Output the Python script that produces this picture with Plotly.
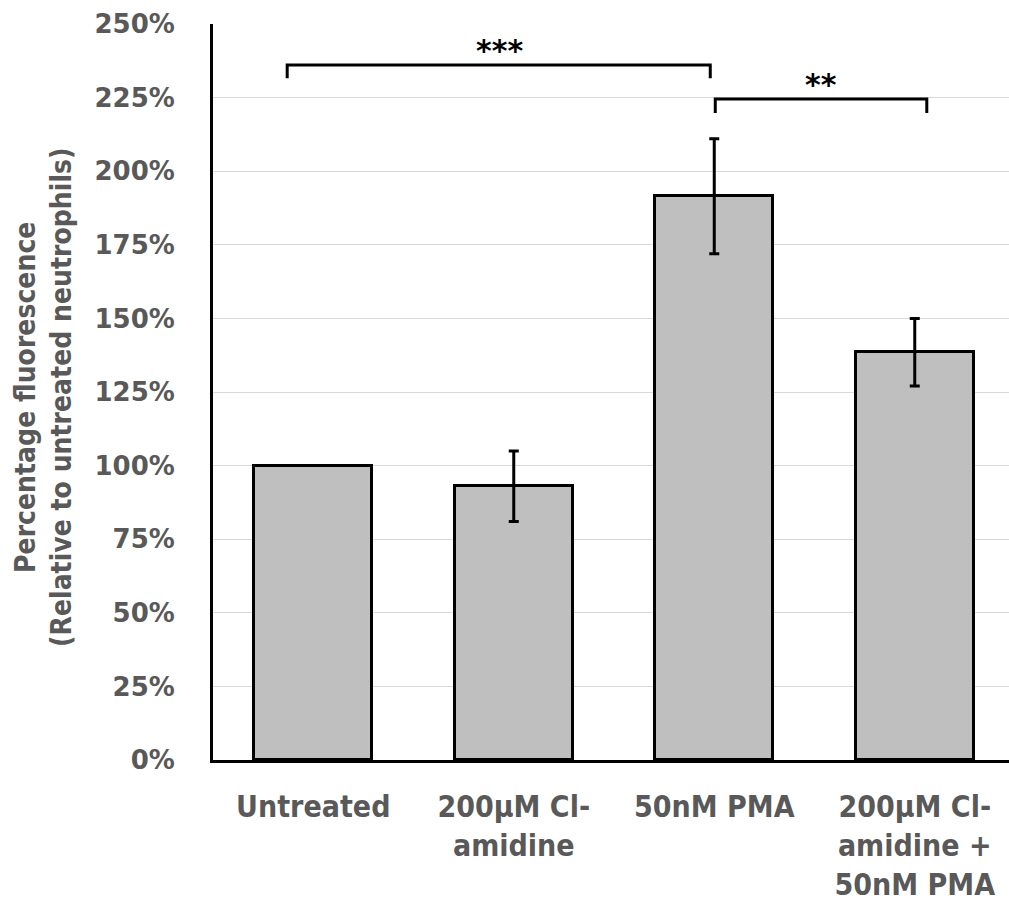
import plotly.graph_objects as go

categories = ["Untreated", "200µM Cl-<br>amidine", "50nM PMA", "200µM Cl-<br>amidine +<br>50nM PMA"]
values = [100, 93, 191.5, 138.5]
errors = [0, 12, 19.5, 11.5]
y_ticks = [0, 25, 50, 75, 100, 125, 150, 175, 200, 225, 250]
y_ticktext = [f"{v}%" for v in y_ticks]

gray = "#595959"
cond = "DejaVu Sans Condensed, Liberation Sans Narrow, DejaVu Sans, sans-serif"

fig = go.Figure()
fig.add_trace(go.Bar(
    x=list(range(len(categories))), y=values, width=0.59,
    marker=dict(color="#bfbfbf", line=dict(color="black", width=3)),
    error_y=dict(type="data", array=errors, visible=True, color="black", thickness=3, width=5),
))

# significance brackets
def bracket(x0, x1, ytop, ybot, label, lx, ly):
    fig.add_shape(type="path", xref="x", yref="y",
                  path=f"M {x0},{ybot} L {x0},{ytop} L {x1},{ytop} L {x1},{ybot}",
                  line=dict(color="black", width=3))
    fig.add_annotation(x=lx, y=ly, xref="x", yref="y", text=label, showarrow=False,
                       font=dict(family="DejaVu Sans, sans-serif", size=30, color="black",
                                 weight="bold"))

bracket(-0.13, 1.98, 236.1, 231.6, "***", 0.93, 241)
bracket(2.005, 3.06, 224.5, 219.8, "**", 2.53, 229.5)

fig.add_annotation(xref="paper", yref="paper", x=0, y=0.5, xshift=-170, yshift=-5,
                   text="Percentage fluorescence<br>(Relative to untreated neutrophils)",
                   textangle=-90, showarrow=False, xanchor="center", yanchor="middle",
                   font=dict(family=cond, size=28, color=gray, weight="bold"))

fig.update_layout(
    width=1009, height=903,
    margin=dict(l=213, r=0, t=24, b=143, autoexpand=False),
    plot_bgcolor="white", paper_bgcolor="white",
    showlegend=False, bargap=0,
    xaxis=dict(range=[-0.5, 3.47], tickmode="array", tickvals=list(range(len(categories))),
               ticktext=categories, showgrid=False, zeroline=False, automargin=False,
               showline=True, linecolor="black", linewidth=3, ticks="",
               tickfont=dict(family=cond, size=30, color=gray, weight="bold"),
               ticklabelstandoff=18),
    yaxis=dict(range=[0, 250], tickmode="array", tickvals=y_ticks, ticktext=y_ticktext,
               showgrid=True, gridcolor="#d9d9d9", gridwidth=1, zeroline=False, automargin=False,
               showline=True, linecolor="black", linewidth=3, ticks="",
               tickfont=dict(family="DejaVu Sans, sans-serif", size=26, color=gray, weight="bold"),
               ticklabelstandoff=30),
)

fig.write_html("out.html", config={"displayModeBar": False},
               post_script="document.body.style.margin='0';document.body.style.overflow='hidden';")
